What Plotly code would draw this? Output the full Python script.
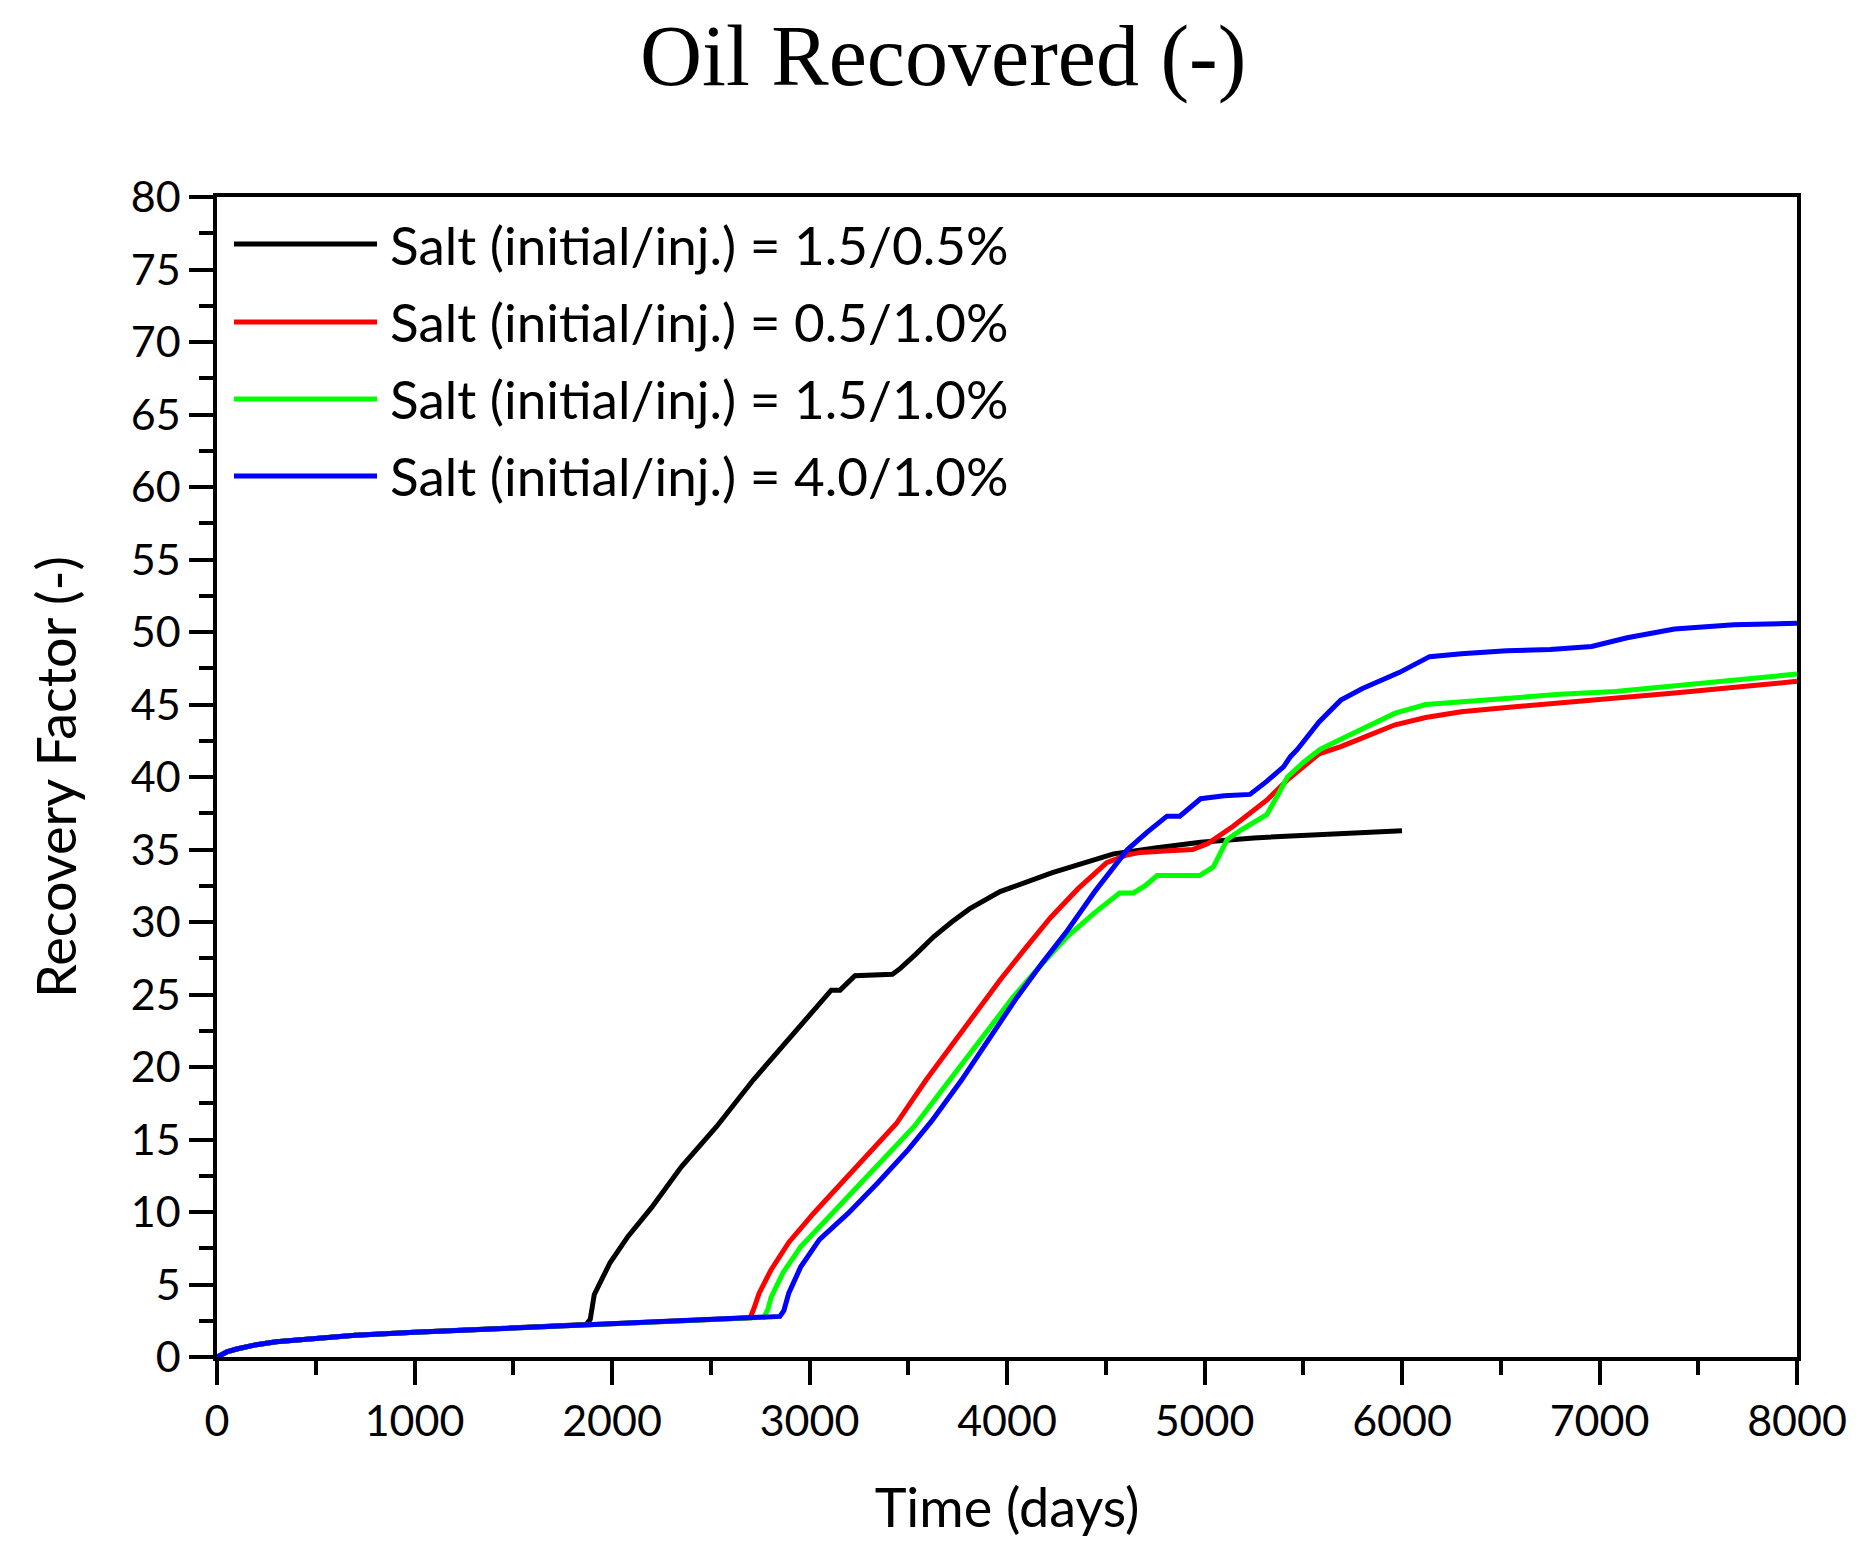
import plotly.graph_objects as go

# ---------------- data ----------------
series_names = [
    "Salt (initial/inj.) = 1.5/0.5%",
    "Salt (initial/inj.) = 0.5/1.0%",
    "Salt (initial/inj.) = 1.5/1.0%",
    "Salt (initial/inj.) = 4.0/1.0%",
]
series_colors = ["#000000", "#FF0000", "#00FF00", "#0000FF"]

t_black = [0, 50, 100, 200, 300, 500, 700, 1000, 1500, 1870, 1890, 1910, 1950, 1990,
           2080, 2200, 2350, 2530, 2715, 2900, 3020, 3090, 3110, 3155, 3230, 3420,
           3460, 3540, 3630, 3720, 3810, 3965, 4100, 4230, 4470, 4540, 4750, 4980,
           5250, 5565, 5800, 6000]
rf_black = [0, 0.35, 0.55, 0.85, 1.05, 1.3, 1.5, 1.7, 2.0, 2.25, 2.6, 4.3, 5.4, 6.5,
            8.3, 10.3, 13.1, 15.9, 19.1, 22.0, 23.9, 25.1, 25.3, 25.3, 26.3, 26.4,
            26.8, 27.8, 29.0, 30.0, 30.9, 32.1, 32.8, 33.4, 34.4, 34.7, 35.1, 35.5,
            35.8, 36.0, 36.15, 36.3]

t_red = [0, 50, 100, 200, 300, 500, 700, 1000, 1500, 1870, 2200, 2700, 2720, 2745,
         2805, 2895, 3020, 3140, 3285, 3440, 3590, 3780, 3965, 4100, 4220, 4360,
         4505, 4600, 4675, 4800, 4940, 5015, 5145, 5315, 5420, 5580, 5690, 5800,
         5965, 6120, 6300, 6530, 6800, 7080, 7380, 7700, 8000]
rf_red = [0, 0.35, 0.55, 0.85, 1.05, 1.3, 1.5, 1.7, 2.0, 2.25, 2.45, 2.7, 3.4, 4.4,
          6.0, 7.9, 9.9, 11.7, 13.8, 16.1, 19.1, 22.6, 26.0, 28.3, 30.3, 32.3,
          34.1, 34.6, 34.8, 34.9, 35.0, 35.4, 36.6, 38.4, 39.8, 41.6, 42.1, 42.7,
          43.6, 44.1, 44.5, 44.8, 45.1, 45.4, 45.8, 46.2, 46.6]

t_green = [0, 50, 100, 200, 300, 500, 700, 1000, 1500, 1870, 2200, 2700, 2770, 2790,
           2805, 2865, 2955, 3080, 3225, 3375, 3530, 3710, 3870, 4030, 4170, 4305,
           4440, 4570, 4640, 4700, 4760, 4880, 4975, 5045, 5115, 5180, 5245, 5315,
           5365, 5420, 5500, 5585, 5690, 5800, 5965, 6120, 6300, 6500, 6800, 7080,
           7380, 7700, 8000]
rf_green = [0, 0.35, 0.55, 0.85, 1.05, 1.3, 1.5, 1.7, 2.0, 2.25, 2.45, 2.7, 2.75, 3.3,
            4.1, 5.8, 7.6, 9.4, 11.5, 13.6, 15.9, 19.1, 22.0, 24.8, 27.0, 29.0,
            30.6, 32.0, 32.0, 32.5, 33.2, 33.2, 33.2, 33.8, 35.7, 36.3, 36.8, 37.4,
            38.6, 40.0, 41.0, 41.9, 42.6, 43.3, 44.4, 45.0, 45.2, 45.4, 45.7, 45.9,
            46.3, 46.7, 47.1]

t_blue = [0, 50, 100, 200, 300, 500, 700, 1000, 1500, 1870, 2200, 2700, 2850, 2870,
          2895, 2955, 3050, 3195, 3345, 3500, 3620, 3770, 3910, 4050, 4180, 4305,
          4450, 4610, 4710, 4810, 4875, 4980, 5100, 5230, 5315, 5400, 5435, 5470,
          5580, 5690, 5800, 5985, 6140, 6300, 6530, 6750, 6960, 7140, 7380, 7680, 8000]
rf_blue = [0, 0.35, 0.55, 0.85, 1.05, 1.3, 1.5, 1.7, 2.0, 2.25, 2.45, 2.7, 2.8, 3.2,
           4.4, 6.2, 8.1, 9.9, 12.0, 14.3, 16.3, 19.1, 21.9, 24.8, 27.2, 29.4,
           32.2, 35.0, 36.2, 37.3, 37.3, 38.5, 38.7, 38.8, 39.7, 40.7, 41.4, 41.9,
           43.8, 45.3, 46.1, 47.2, 48.3, 48.5, 48.7, 48.8, 49.0, 49.6, 50.2, 50.5, 50.6]

x_ticks = [0, 1000, 2000, 3000, 4000, 5000, 6000, 7000, 8000]
y_ticks = list(range(0, 81, 5))

# ---------------- figure ----------------
W, H = 1874, 1566
L, R, T, B = 209, 85, 189, 217
plot_w, plot_h = W - L - R, H - T - B
PAGE_OFF = 8  # page body margin

fig = go.Figure()
xs = [t_black, t_red, t_green, t_blue]
ys = [rf_black, rf_red, rf_green, rf_blue]
for x, y, name, col in zip(xs, ys, series_names, series_colors):
    fig.add_trace(go.Scatter(x=x, y=y, mode="lines", name=name,
                             line=dict(color=col, width=5), showlegend=False))

# manual legend (long sample lines as in the reference)
leg_x0 = (234 - PAGE_OFF - L) / plot_w
leg_x1 = (377 - PAGE_OFF - L) / plot_w
leg_tx = (388 - PAGE_OFF - L) / plot_w
leg_rows = [244, 322, 399, 476]
for row, name, col in zip(leg_rows, series_names, series_colors):
    yp = (H - B - (row - PAGE_OFF)) / plot_h
    fig.add_shape(type="line", xref="paper", yref="paper", x0=leg_x0, x1=leg_x1,
                  y0=yp, y1=yp, line=dict(color=col, width=5))
    fig.add_annotation(xref="paper", yref="paper", x=leg_tx, y=yp, text=name,
                       showarrow=False, xanchor="left", yanchor="middle",
                       font=dict(family="Lato", size=53, color="black"))

axis_common = dict(
    showline=True, linecolor="black", linewidth=3.5, mirror=True,
    ticks="outside", ticklen=24, tickwidth=3.5, tickcolor="black",
    showgrid=False, zeroline=False,
    tickfont=dict(family="Lato", size=43, color="black"),
)

fig.update_xaxes(range=[0, 8000], tickvals=x_ticks,
                 minor=dict(dtick=500, ticks="outside", ticklen=14, tickwidth=3.5,
                            tickcolor="black", showgrid=False),
                 title=dict(text="Time (days)", standoff=46,
                            font=dict(family="Lato", size=54, color="black")),
                 **axis_common)
fig.update_yaxes(range=[0, 80], tickvals=y_ticks,
                 minor=dict(dtick=2.5, ticks="outside", ticklen=14, tickwidth=3.5,
                            tickcolor="black", showgrid=False),
                 title=dict(text="Recovery Factor (-)", standoff=38,
                            font=dict(family="Lato", size=54, color="black")),
                 **axis_common)

fig.update_layout(
    width=W, height=H,
    margin=dict(l=L, r=R, t=T, b=B),
    paper_bgcolor="white", plot_bgcolor="white",
    title=dict(text="Oil Recovered (-)", x=0.499, xanchor="center",
               y=1 - 47 / H, yanchor="middle", xref="container", yref="container",
               font=dict(family="Liberation Serif", size=86, color="black")),
)

fig.write_html("out.html")
